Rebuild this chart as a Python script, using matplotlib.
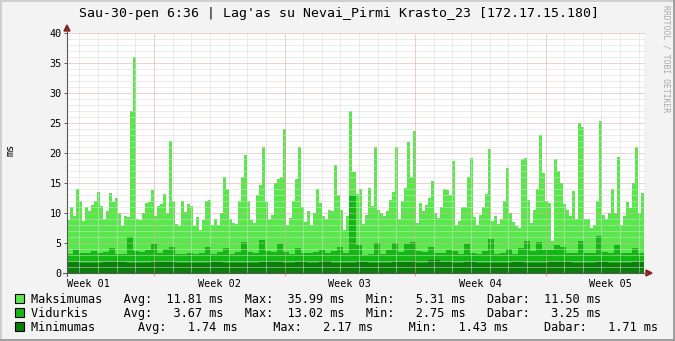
import numpy as np
import matplotlib.pyplot as plt
from matplotlib.patches import Rectangle, Polygon
from matplotlib.lines import Line2D

plt.rcParams['font.family'] = ['DejaVu Sans Mono']

W, H = 675, 341

title = "Sau-30-pen 6:36 | Lag'as su Nevai_Pirmi Krasto_23 [172.17.15.180]"
week_labels = ['Week 01', 'Week 02', 'Week 03', 'Week 04', 'Week 05']

# time axis in days from the left edge of the graph
span_days = 30.95
first_week_start = 4.67

# Maksimumas (evenly spaced samples)
maks = [8.9, 11.0, 9.5, 14, 12, 8.6, 11, 10.3, 11.4, 12, 13.5, 11.2, 9, 10.3, 13.3, 11.9,
        12.5, 10, 7.8, 9.5, 9.4, 27, 36.0, 9, 8.9, 10, 11.7, 11.9, 13.9, 9.5, 11.1, 11.5, 13.1,
        10, 22, 12, 8.1, 7.8, 12, 10.1, 11.5, 11.1, 7.8, 9.4, 7.2, 8.9, 12, 12.2, 8,
        9, 8, 10, 16, 14, 9, 8.3, 8.2, 12, 16, 19.6, 12, 8.9, 8.4, 13, 14.7,
        21, 11.9, 9, 9.7, 15, 15.7, 16, 24, 8, 9.2, 12, 15.7, 21, 11, 8.5, 10.3,
        8, 10, 14, 11.7, 9.5, 9, 10.5, 10.3, 18, 13, 10.5, 7.2, 9.5, 27, 16.9, 13.1,
        14, 8.1, 9.7, 14.2, 11.1, 21, 10.5, 10, 9.5, 10.3, 12.2, 13.5, 21, 9, 12, 14.2,
        21.9, 16, 23.6, 8.4, 11.7, 10.3, 11.4, 12.5, 15.3, 10, 9.2, 11, 14, 13.9, 13, 18.6,
        8, 8.6, 11, 11, 16, 19.1, 9.4, 8, 9.7, 11, 13.1, 20.7, 8.6, 9.5, 8.1, 9,
        12, 17.5, 10, 8.5, 7.8, 7.5, 19, 19.1, 12.2, 8.4, 10.5, 14, 23, 16.7, 12, 11.7,
        5.3, 19, 17, 15, 11.5, 10.5, 9.5, 13.6, 9, 25, 24.3, 9, 9, 7.5, 8, 12,
        25.4, 9.7, 9, 10, 14, 10, 19.4, 8, 9.5, 11.9, 10.8, 15, 21, 10, 13.3]

# Vidurkis
vid = [3.1, 3.8, 3.3, 3.3, 3.6, 3.4, 3.5, 4.2, 3.2, 3.2, 6.0, 3.6, 3.5, 3.9, 4.8, 3.3,
       4.0, 4.3, 3.1, 3.2, 3.3, 3.2, 3.4, 4.4, 3.2, 3.5, 4.2, 3.2, 3.5, 5.2, 3.5, 3.4,
       5.5, 3.6, 3.5, 4.8, 3.5, 3.2, 4.2, 3.3, 3.3, 3.5, 3.9, 3.3, 3.6, 4.4, 3.3, 13.0,
       4.6, 3.0, 3.1, 5.0, 3.2, 3.8, 5.0, 3.5, 4.9, 5.2, 3.6, 3.5, 4.4, 3.3, 3.3, 3.8,
       3.6, 3.1, 4.8, 3.3, 3.2, 3.6, 5.6, 3.2, 3.3, 4.0, 3.2, 4.2, 5.4, 3.6, 5.2, 3.8,
       3.8, 4.7, 4.3, 3.3, 3.4, 5.4, 3.4, 3.3, 6.2, 3.5, 3.4, 4.6, 3.4, 3.3, 4.1, 3.4]

# Minimumas
mini = [1.8, 1.7, 1.6, 1.8, 1.9, 1.7, 1.6, 1.8, 1.9, 1.7, 1.6, 1.7,
        1.8, 1.6, 1.7, 1.6, 1.8, 1.9, 1.7, 1.8, 1.7, 2.0, 1.7, 1.6,
        1.8, 1.7, 1.6, 1.8, 1.9, 1.7, 2.1, 1.8, 1.7, 1.8, 1.7, 1.6,
        1.7, 1.8, 1.6, 1.7, 1.9, 1.8, 1.7, 1.6, 1.8, 1.7, 1.6, 1.8]

legend_rows = [
    ('#59E84B', "Maksimumas   Avg:  11.81 ms   Max:  35.99 ms   Min:   5.31 ms   Dabar:  11.50 ms"),
    ('#14B814', "Vidurkis     Avg:   3.67 ms   Max:  13.02 ms   Min:   2.75 ms   Dabar:   3.25 ms"),
    ('#0A7D0A', "Minimumas      Avg:   1.74 ms     Max:   2.17 ms     Min:   1.43 ms     Dabar:   1.71 ms"),
]

GRID = '#D9D9D9'
MGRID = '#E9A3A3'
AXIS = '#5A5A5A'
ARROW = '#8B1F1F'


def fx(x):
    return x / W


def fy(y):
    return 1 - y / H


fig = plt.figure(figsize=(W / 100, H / 100), dpi=100, facecolor='#F3F3F3')
ax = fig.add_axes([fx(67), fy(273), 577 / W, 240 / H])
ax.set_facecolor('white')

# areas, stacked the rrdtool way (drawn over each other)
for vals, col in zip([maks, vid, mini], ['#59E84B', '#14B814', '#0A7D0A']):
    edges = np.linspace(0, span_days, len(vals) + 1)
    ax.stairs(vals, edges, fill=True, color=col, lw=0, zorder=1)

ax.set_xlim(0, span_days)
ax.set_ylim(0, 40)

# grid on top of the data
for v in range(1, 41):
    ax.axhline(v, color=MGRID if v % 5 == 0 else GRID, lw=0.72,
               ls=(0, (1, 1)), zorder=3, clip_on=False)
for k in range(-4, 27):
    d = first_week_start + k
    if 0 < d < span_days:
        ax.axvline(d, color=MGRID if k % 7 == 0 else GRID, lw=0.72,
                   ls=(0, (1, 1)), zorder=3)

for s in ax.spines.values():
    s.set_visible(False)

ax.set_yticks(range(0, 41, 5))
ax.tick_params(axis='y', length=2.2, width=0.7, color=AXIS, pad=1.5, labelsize=7.3)

week_starts = [first_week_start + 7 * k for k in range(4)]
week_centers = [first_week_start - 3.5 + 7 * k for k in range(5)]
ax.set_xticks(week_centers, week_labels)
ax.set_xticks(week_starts, minor=True)
ax.tick_params(axis='x', which='major', length=0, pad=4, labelsize=7.3)
ax.tick_params(axis='x', which='minor', length=2.5, width=0.7, color=MGRID)

# axis lines with arrows
fig.add_artist(Line2D([fx(67), fx(67)], [fy(276), fy(29)], color=AXIS, lw=0.8))
fig.add_artist(Line2D([fx(63), fx(647)], [fy(273), fy(273)], color=AXIS, lw=0.8))
fig.add_artist(Polygon([(fx(64), fy(31)), (fx(70), fy(31)), (fx(67), fy(25))],
                       closed=True, color=ARROW, transform=fig.transFigure))
fig.add_artist(Polygon([(fx(646), fy(270)), (fx(646), fy(276)), (fx(652), fy(273))],
                       closed=True, color=ARROW, transform=fig.transFigure))

fig.text(fx(339), fy(13), title, ha='center', va='center', fontsize=9.5)
fig.text(fx(11), fy(150), 'ms', rotation=90, ha='center', va='center', fontsize=7.3)
fig.text(fx(666), fy(5), 'RRDTOOL / TOBI OETIKER', rotation=-90, ha='center', va='top',
         fontsize=5.8, color='#A8A8A8')

# legend
for i, (col, row) in enumerate(legend_rows):
    yc = 299 + 14 * i
    fig.add_artist(Rectangle((fx(15), fy(yc + 4)), 9 / W, 9 / H, transform=fig.transFigure,
                             facecolor=col, edgecolor='black', lw=0.8))
    fig.text(fx(31), fy(yc), row, ha='left', va='center', fontsize=8.55)

# rrdtool style shaded frame
fig.add_artist(Line2D([0, 1], [fy(1), fy(1)], color='#CFCFCF', lw=1.4))
fig.add_artist(Line2D([fx(1), fx(1)], [0, 1], color='#CFCFCF', lw=1.4))
fig.add_artist(Line2D([0, 1], [fy(340), fy(340)], color='#9E9E9E', lw=1.4))
fig.add_artist(Line2D([fx(674), fx(674)], [0, 1], color='#9E9E9E', lw=1.4))

fig.savefig('out.png', dpi=100, facecolor=fig.get_facecolor())
